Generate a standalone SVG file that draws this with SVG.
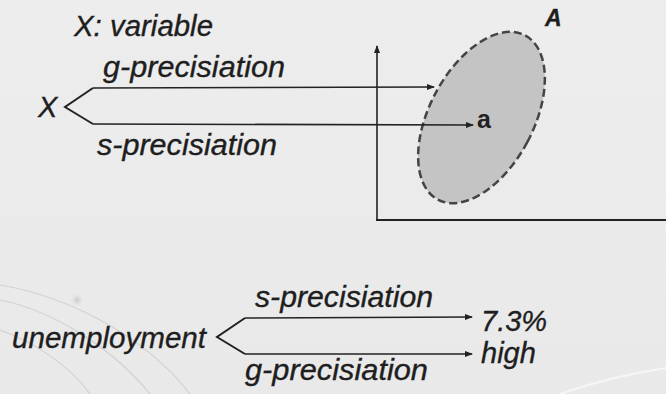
<svg xmlns="http://www.w3.org/2000/svg" width="666" height="394" viewBox="0 0 666 394">
<defs>
<marker id="ah" markerWidth="8" markerHeight="6" refX="7" refY="3" orient="auto" markerUnits="userSpaceOnUse">
<path d="M0,0 L8,3 L0,6 Z" fill="#222"/>
</marker>
<linearGradient id="bg" x1="0" y1="0" x2="0" y2="1">
<stop offset="0" stop-color="#ededed"/>
<stop offset="1" stop-color="#e9e9ea"/>
</linearGradient>
<radialGradient id="dot">
<stop offset="0" stop-color="#c8c8c8"/>
<stop offset="1" stop-color="#e6e6e6" stop-opacity="0"/>
</radialGradient>
</defs>
<style>
.t{font-family:"Liberation Sans",Arial,sans-serif;font-style:italic;font-size:29px;fill:#1e1e1e;stroke:#1e1e1e;stroke-width:0.35}
.ln{fill:none;stroke:#222;stroke-width:2}
.ar{fill:none;stroke:#222;stroke-width:1.6;marker-end:url(#ah)}
.deco{fill:none;stroke:#d2d2d2;stroke-width:1.2}
</style>
<rect width="666" height="394" fill="url(#bg)"/>
<g id="decoration">
<path class="deco" d="M0,285 C60,295 140,330 190,394"/>
<path class="deco" d="M0,300 C50,310 110,345 150,394"/>
<path class="deco" d="M0,330 C30,340 70,365 90,394"/>
<path d="M560,394 C600,380 640,372 666,368" fill="none" stroke="#f6f6f6" stroke-width="2"/>
<circle cx="77" cy="300" r="7" fill="url(#dot)"/>
</g>
<g id="axes">
<line class="ar" x1="377" y1="220" x2="377" y2="46"/>
<line class="ln" x1="376" y1="220" x2="666" y2="220"/>
</g>
<g id="set-A">
<ellipse cx="481.5" cy="117.5" rx="52" ry="93" transform="rotate(28 481.5 117.5)" fill="#c4c4c4" stroke="#444" stroke-width="2.5" stroke-dasharray="8 4"/>
<text class="t" x="545" y="26" style="font-size:23px;font-weight:bold">A</text>
<text x="477" y="128" style="font-family:'Liberation Sans',Arial,sans-serif;font-size:25px;font-weight:bold;fill:#222">a</text>
</g>
<g id="label-variable">
<text class="t" x="74" y="36" textLength="139" lengthAdjust="spacingAndGlyphs">X: variable</text>
</g>
<g id="node-X">
<text class="t" x="38" y="117">X</text>
</g>
<g id="node-unemployment">
<text class="t" x="12" y="348" textLength="194" lengthAdjust="spacingAndGlyphs">unemployment</text>
</g>
<g id="node-7.3">
<text class="t" x="481" y="331">7.3%</text>
</g>
<g id="node-high">
<text class="t" x="481" y="363">high</text>
</g>
<g id="connectors">
<path class="ln" d="M93,88 L65,107 L93,124"/>
<line class="ar" x1="93" y1="88" x2="434" y2="87"/>
<line class="ar" x1="93" y1="124" x2="473" y2="125"/>
<text class="t" x="103" y="77" textLength="182" lengthAdjust="spacingAndGlyphs">g-precisiation</text>
<text class="t" x="97" y="155" textLength="180" lengthAdjust="spacingAndGlyphs">s-precisiation</text>
<path class="ln" d="M245,318 L217,337 L245,354"/>
<line class="ar" x1="245" y1="318" x2="472" y2="317"/>
<line class="ar" x1="245" y1="354" x2="472" y2="354"/>
<text class="t" x="255" y="307" textLength="178" lengthAdjust="spacingAndGlyphs">s-precisiation</text>
<text class="t" x="245" y="380" textLength="183" lengthAdjust="spacingAndGlyphs">g-precisiation</text>
</g>
</svg>
